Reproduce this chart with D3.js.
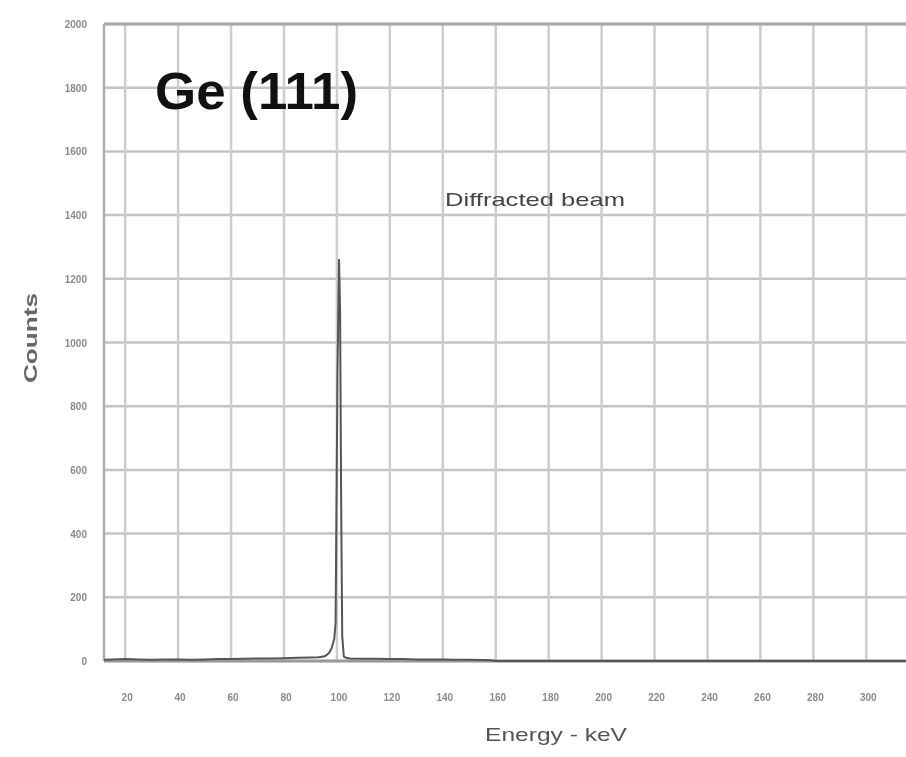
<!DOCTYPE html>
<html>
<head>
<meta charset="utf-8">
<script src="https://cdn.jsdelivr.net/npm/d3@7"></script>
<style>
  body { margin: 0; background: #fff; }
  text { font-family: "Liberation Sans", Arial, sans-serif; }
</style>
</head>
<body>
<script>
// spectrum (energy in keV, counts)
var energy = [12, 15, 20, 25, 30, 35, 40, 45, 50, 55, 60, 65, 70, 75, 80, 85, 90, 93, 95, 96, 97, 98, 99, 99.5, 100.2, 100.8, 101.2, 101.6, 102, 102.6, 103.5, 105, 110, 115, 120, 125, 130, 135, 140, 145, 150, 155, 158, 160, 170, 200, 250, 315];
var counts = [4, 5, 6, 5, 4, 5, 5, 4, 5, 6, 6, 7, 8, 8, 9, 10, 11, 12, 14, 18, 25, 40, 70, 120, 900, 1260, 1100, 500, 80, 14, 10, 8, 7, 7, 6, 6, 5, 5, 5, 4, 4, 3, 2, 0, 0, 0, 0, 0];

var yTicks = [0, 200, 400, 600, 800, 1000, 1200, 1400, 1600, 1800, 2000];
var xTicks = [20, 40, 60, 80, 100, 120, 140, 160, 180, 200, 220, 240, 260, 280, 300];

var W = 906, H = 757;
var pLeft = 104, pRight = 906, pTop = 24, pBottom = 661;

let svg = d3.select("body")
            .append("svg")
            .attr("width", W)
            .attr("height", H);

var defs = svg.append("defs");
defs.append("filter").attr("id", "soft")
    .append("feGaussianBlur").attr("stdDeviation", 0.7);

let x = d3.scaleLinear().domain([12, 315]).range([pLeft, pRight]);
let y = d3.scaleLinear().domain([0, 2000]).range([pBottom, pTop]);

// grid
let grid = svg.append("g").attr("filter", "url(#soft)");
grid.selectAll(".hg")
    .data(yTicks)
    .enter().append("line")
    .attr("x1", pLeft).attr("x2", pRight)
    .attr("y1", d => y(d)).attr("y2", d => y(d))
    .attr("stroke", "#c4c4c4")
    .attr("stroke-width", 2.5);
grid.selectAll(".vg")
    .data(xTicks)
    .enter().append("line")
    .attr("x1", d => x(d)).attr("x2", d => x(d))
    .attr("y1", pTop).attr("y2", pBottom)
    .attr("stroke", "#cdcdcd")
    .attr("stroke-width", 2.5);

// frame
grid.append("line").attr("x1", pLeft).attr("x2", pLeft).attr("y1", pTop).attr("y2", pBottom)
    .attr("stroke", "#b0b0b0").attr("stroke-width", 2.5);
grid.append("line").attr("x1", pLeft).attr("x2", pRight).attr("y1", pTop).attr("y2", pTop)
    .attr("stroke", "#aaaaaa").attr("stroke-width", 3);
grid.append("line").attr("x1", pLeft).attr("x2", pRight).attr("y1", pBottom).attr("y2", pBottom)
    .attr("stroke", "#9a9a9a").attr("stroke-width", 3);

// tick labels
let labels = svg.append("g").attr("filter", "url(#soft)")
    .attr("fill", "#8a8a8a").attr("font-size", 10).attr("font-weight", "bold");
labels.selectAll(".yl")
    .data(yTicks)
    .enter().append("text")
    .attr("x", 87)
    .attr("y", d => y(d) + 4)
    .attr("text-anchor", "end")
    .text(d => d);
labels.selectAll(".xl")
    .data(xTicks)
    .enter().append("text")
    .attr("x", d => x(d) + 2)
    .attr("y", 701)
    .attr("text-anchor", "middle")
    .text(d => d);

// spectrum line
let line = d3.line()
    .x((d, i) => x(energy[i]))
    .y(d => y(d));
svg.append("path")
    .datum(counts)
    .attr("d", line)
    .attr("fill", "none")
    .attr("stroke", "#555")
    .attr("stroke-width", 2)
    .attr("stroke-linejoin", "round")
    .attr("filter", "url(#soft)");

// titles
svg.append("text")
    .attr("x", 155).attr("y", 109)
    .attr("font-size", 52).attr("font-weight", "bold")
    .attr("textLength", 203).attr("lengthAdjust", "spacingAndGlyphs")
    .attr("fill", "#111")
    .text("Ge (111)");

svg.append("text")
    .attr("x", 445).attr("y", 206)
    .attr("font-size", 19)
    .attr("textLength", 180).attr("lengthAdjust", "spacingAndGlyphs")
    .attr("fill", "#444")
    .attr("filter", "url(#soft)")
    .text("Diffracted beam");

svg.append("text")
    .attr("transform", "translate(37,338) rotate(-90)")
    .attr("text-anchor", "middle")
    .attr("font-size", 19).attr("font-weight", "bold")
    .attr("textLength", 90).attr("lengthAdjust", "spacingAndGlyphs")
    .attr("fill", "#666")
    .attr("filter", "url(#soft)")
    .text("Counts");

svg.append("text")
    .attr("x", 485).attr("y", 741)
    .attr("font-size", 19)
    .attr("textLength", 142).attr("lengthAdjust", "spacingAndGlyphs")
    .attr("fill", "#555")
    .attr("filter", "url(#soft)")
    .text("Energy - keV");
</script>
</body>
</html>
